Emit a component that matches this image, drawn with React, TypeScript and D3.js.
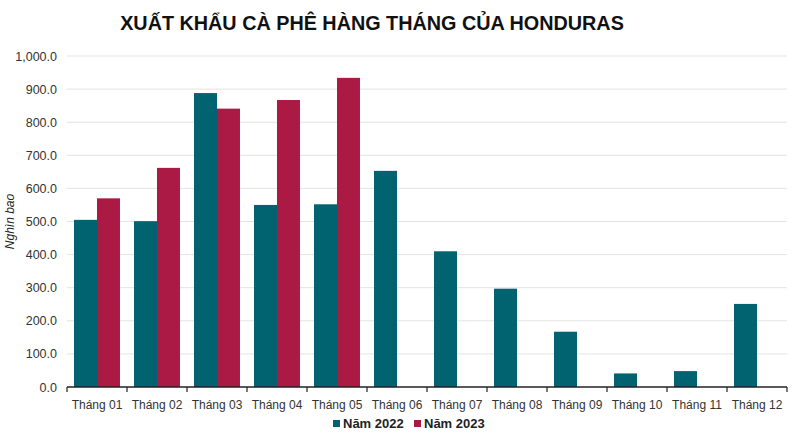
import React, { useEffect, useRef } from "react";
import * as d3 from "d3";

const months = [
  "Tháng 01", "Tháng 02", "Tháng 03", "Tháng 04", "Tháng 05", "Tháng 06",
  "Tháng 07", "Tháng 08", "Tháng 09", "Tháng 10", "Tháng 11", "Tháng 12",
];
const values2022 = [505, 501, 888, 550, 552, 653, 410, 297, 167, 41, 48, 251];
const values2023 = [570, 662, 841, 867, 934, null, null, null, null, null, null, null];
const seriesNames = ["Năm 2022", "Năm 2023"];
const seriesColors = ["#00636f", "#ab1a45"];
const yTicks = [0, 100, 200, 300, 400, 500, 600, 700, 800, 900, 1000];

const App: React.FC = () => {
  const svgRef = useRef<SVGSVGElement | null>(null);
  const width = 800;
  const height = 440;
  const left = 67;
  const right = 787;
  const top = 56;
  const bottom = 387;
  const font = "'Liberation Sans', Arial, sans-serif";

  useEffect(() => {
    const svg = d3.select(svgRef.current);
    svg.selectAll("*").remove();

    const x = d3.scaleBand<string>().domain(months).range([left, right]).padding(0);
    const bw = x.bandwidth();
    const x1 = d3
      .scaleBand<string>()
      .domain(seriesNames)
      .range([bw * 0.117, bw * 0.883])
      .padding(0);
    const y = d3.scaleLinear().domain([0, 1000]).range([bottom, top]);

    // title
    svg
      .append("text")
      .attr("x", 372)
      .attr("y", 30)
      .attr("text-anchor", "middle")
      .style("font-family", font)
      .style("font-weight", "bold")
      .style("font-size", "19.8px")
      .attr("fill", "#111")
      .text("XUẤT KHẨU CÀ PHÊ HÀNG THÁNG CỦA HONDURAS");

    // grid
    svg
      .append("g")
      .selectAll("line")
      .data(yTicks.filter((t) => t > 0))
      .enter()
      .append("line")
      .attr("x1", left)
      .attr("x2", right)
      .attr("y1", (d) => y(d))
      .attr("y2", (d) => y(d))
      .attr("stroke", "#e3e3e3")
      .attr("stroke-width", 1);

    // y axis labels
    const axisY = d3
      .axisLeft(y)
      .tickValues(yTicks)
      .tickSize(0)
      .tickPadding(10)
      .tickFormat((d) => d3.format(",.1f")(d as number));
    const gy = svg.append("g").attr("transform", `translate(${left},0)`).call(axisY);
    gy.select(".domain").remove();
    gy.selectAll("text")
      .style("font-family", font)
      .style("font-size", "12.5px")
      .attr("fill", "#333");

    // y title
    svg
      .append("text")
      .attr("transform", `translate(14, ${(top + bottom) / 2}) rotate(-90)`)
      .attr("text-anchor", "middle")
      .style("font-family", font)
      .style("font-style", "italic")
      .style("font-size", "12px")
      .attr("fill", "#222")
      .text("Nghìn bao");

    // bars
    const data = months.map((m, i) => ({ m, vals: [values2022[i], values2023[i]] }));
    const groups = svg
      .append("g")
      .selectAll("g")
      .data(data)
      .enter()
      .append("g")
      .attr("transform", (d) => `translate(${x(d.m)},0)`);
    groups
      .selectAll("rect")
      .data((d) =>
        d.vals
          .map((v, i) => ({ v, s: seriesNames[i], c: seriesColors[i] }))
          .filter((e) => e.v !== null)
      )
      .enter()
      .append("rect")
      .attr("x", (d) => x1(d.s) as number)
      .attr("width", x1.bandwidth())
      .attr("y", (d) => y(d.v as number))
      .attr("height", (d) => bottom - y(d.v as number))
      .attr("fill", (d) => d.c);

    // x axis
    const gx = svg.append("g").attr("transform", `translate(0,${bottom})`);
    gx.append("line")
      .attr("x1", left)
      .attr("x2", right)
      .attr("stroke", "#222")
      .attr("stroke-width", 1.5);
    const boundaries = months.map((m) => x(m) as number).concat([right]);
    gx.selectAll("line.tick")
      .data(boundaries)
      .enter()
      .append("line")
      .attr("class", "tick")
      .attr("x1", (d) => d)
      .attr("x2", (d) => d)
      .attr("y1", 0)
      .attr("y2", 5)
      .attr("stroke", "#222")
      .attr("stroke-width", 1.2);
    gx.selectAll("text")
      .data(months)
      .enter()
      .append("text")
      .attr("x", (d) => (x(d) as number) + bw / 2)
      .attr("y", 22)
      .attr("text-anchor", "middle")
      .style("font-family", font)
      .style("font-size", "12px")
      .attr("fill", "#333")
      .text((d) => d);

    // legend
    const legendX = [333, 414];
    const lg = svg
      .append("g")
      .selectAll("g")
      .data(seriesNames)
      .enter()
      .append("g")
      .attr("transform", (d, i) => `translate(${legendX[i]}, 428)`);
    lg.append("rect")
      .attr("x", 0)
      .attr("y", -8)
      .attr("width", 7)
      .attr("height", 7)
      .attr("fill", (d, i) => seriesColors[i]);
    lg.append("text")
      .attr("x", 10)
      .attr("y", 0)
      .style("font-family", font)
      .style("font-weight", "bold")
      .style("font-size", "13px")
      .attr("fill", "#222")
      .text((d) => d);
  }, []);

  return (
    <svg
      ref={svgRef}
      width={width}
      height={height}
      style={{ position: "absolute", left: 0, top: 0, background: "#fff" }}
    ></svg>
  );
};

export default App;
